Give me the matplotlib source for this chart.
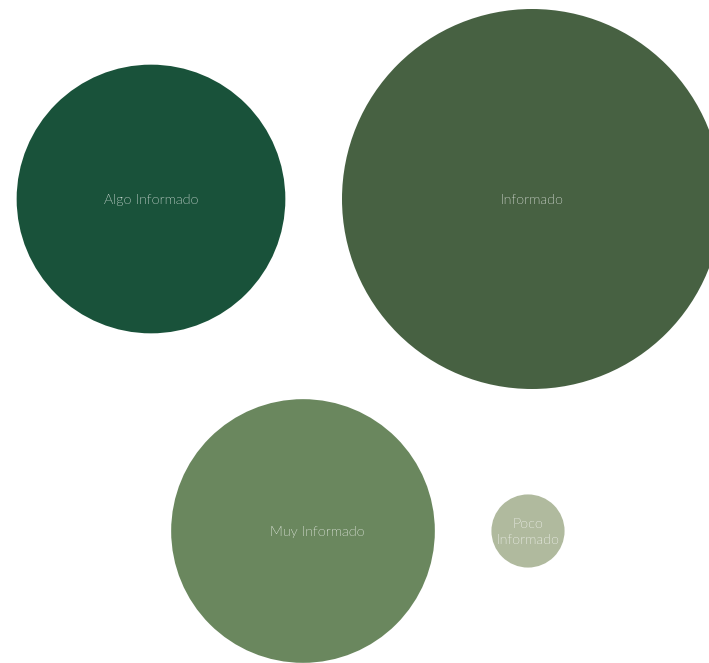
import numpy as np
import matplotlib.pyplot as plt
from matplotlib.patches import Circle
from matplotlib import font_manager

# bubble data: category, count, centre (pixels)
labels = ["Algo Informado", "Informado", "Muy Informado", "Poco\nInformado"]
values = [27, 54, 26, 2]
colors = ["#19523a", "#476142", "#6a875e", "#b0ba9e"]
cx = [151, 532, 303, 528]
cy = [199, 199, 531, 531]
label_x = [151, 532, 317, 528]

# pick Lato Light if present, otherwise regular Lato
prop = font_manager.FontProperties(family='Lato', weight='normal')
for f in font_manager.fontManager.ttflist:
    fn = f.fname.lower()
    if f.name == 'Lato' and 'light' in fn and 'italic' not in fn:
        prop = font_manager.FontProperties(fname=f.fname)
        break
prop.set_size(10.3)

scale = 190 / np.sqrt(54)   # radius in px per sqrt(count)

fig = plt.figure(figsize=(7.09, 6.63), dpi=100)
ax = fig.add_axes([0, 0, 1, 1])
ax.set_xlim(0, 709)
ax.set_ylim(663, 0)
ax.set_aspect('equal')
ax.axis('off')

for i in range(len(labels)):
    r = scale * np.sqrt(values[i])
    ax.add_patch(Circle((cx[i], cy[i]), r, color=colors[i], lw=0))
    ax.text(label_x[i], cy[i] + 1, labels[i], ha='center', va='center',
            color='#ffffff', fontproperties=prop, linespacing=1.45)

plt.savefig('out.png', dpi=100)
